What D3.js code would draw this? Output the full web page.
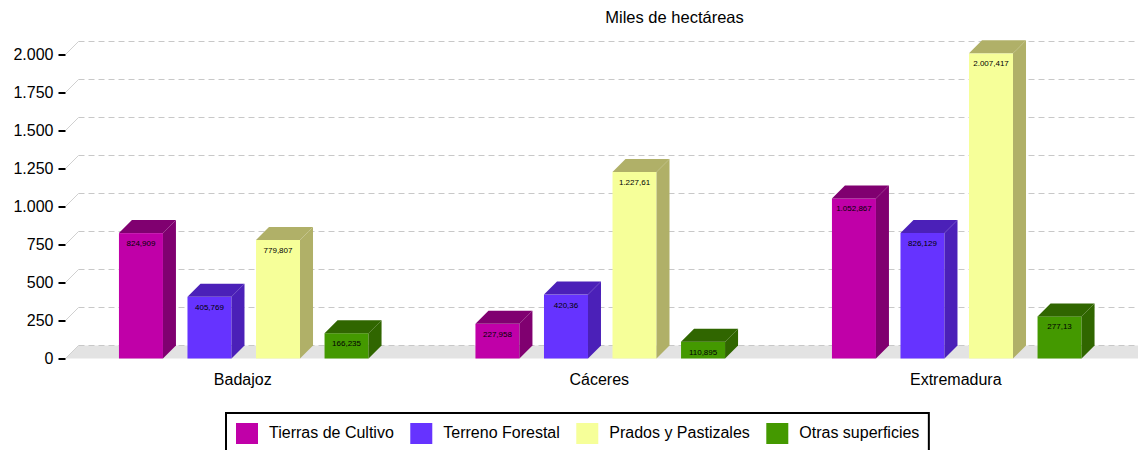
<!DOCTYPE html>
<html lang="es">
<head>
<meta charset="utf-8">
<title>Miles de hectáreas</title>
<script src="https://d3js.org/d3.v7.min.js"></script>
<style>
    body { margin: 0; background: #fff; }
    text { font-family: "Liberation Sans", Arial, sans-serif; fill: #000; }
    .grid line { stroke: #c8c8c8; stroke-dasharray: 6 4; }
    .axis--y .domain { display: none; }
    .axis--y .tick line { stroke: #000; stroke-width: 2; }
    .val { font-size: 8px; }
</style>
</head>
<body>
<svg width="1138" height="450"></svg>
<script>
// data (miles de hectáreas)
var categories = ["Badajoz", "Cáceres", "Extremadura"];
var series = ["Tierras de Cultivo", "Terreno Forestal", "Prados y Pastizales", "Otras superficies"];
var cultivo   = [824.909, 227.958, 1052.867];
var forestal  = [405.769, 420.36, 826.129];
var prados    = [779.807, 1227.61, 2007.417];
var otras     = [166.235, 110.895, 277.13];
var yTicks = [0, 250, 500, 750, 1000, 1250, 1500, 1750, 2000];

var frontColors = ["#c000a8", "#6633ff", "#f6ff99", "#449900"];
var darkColors  = ["#800070", "#4b20b8", "#b0b068", "#306600"];

var locale = d3.formatLocale({decimal: ",", thousands: ".", grouping: [3], currency: ["", "€"]});
var fmtTick = locale.format(",d");
var fmtVal = locale.format(",.3~f");

var svg = d3.select("svg"),
    W = +svg.attr("width"),
    depth = 13,
    left = 65.5, right = 1135;

var y = d3.scaleLinear().domain([0, 2000]).range([358.5, 54.5]);
var x0 = d3.scaleBand().domain(categories).range([left, right]);
var x1 = d3.scaleBand().domain(series).range([0, x0.bandwidth()]).paddingInner(0.358).paddingOuter(0.78);

// floor
svg.append("path")
    .attr("d", "M" + (left) + "," + y(0) + "L" + (left + depth) + "," + (y(0) - depth) +
               "L" + (W + depth) + "," + (y(0) - depth) + "L" + W + "," + y(0) + "Z")
    .attr("fill", "#e3e3e3");

// back grid
var grid = svg.append("g").attr("class", "grid");
grid.selectAll("line.h")
    .data(yTicks)
    .enter().append("line")
    .attr("x1", left + depth)
    .attr("x2", W)
    .attr("y1", function(d) { return y(d) - depth; })
    .attr("y2", function(d) { return y(d) - depth; });
svg.append("g").selectAll("line")
    .data(yTicks)
    .enter().append("line")
    .attr("x1", left)
    .attr("y1", function(d) { return y(d); })
    .attr("x2", left + depth)
    .attr("y2", function(d) { return y(d) - depth; })
    .attr("stroke", "#d0d0d0");

// y axis
var yAxis = svg.append("g")
    .attr("class", "axis axis--y")
    .attr("transform", "translate(" + left + ",0)")
    .call(d3.axisLeft(y).tickValues(yTicks).tickSize(7).tickPadding(5).tickFormat(fmtTick));
yAxis.selectAll("text").style("font-size", "16px").style("font-family", "Liberation Sans, Arial, sans-serif").attr("fill", "#000");

// bars
var rows = categories.map(function(c, i) {
    return [cultivo[i], forestal[i], prados[i], otras[i]].map(function(v, j) {
        return {cat: c, s: series[j], j: j, v: v};
    });
});

var groups = svg.selectAll(".group")
    .data(rows)
    .enter().append("g")
    .attr("class", "group")
    .attr("transform", function(d) { return "translate(" + x0(d[0].cat) + ",0)"; });

var bar = groups.selectAll(".bar")
    .data(function(d) { return d; })
    .enter().append("g")
    .attr("class", "bar");

bar.each(function(d) {
    var g = d3.select(this),
        bx = x1(d.s), bw = x1.bandwidth(),
        yt = y(d.v), yb = y(0);
    g.append("rect")
        .attr("x", bx).attr("y", yt)
        .attr("width", bw).attr("height", yb - yt)
        .attr("fill", frontColors[d.j]);
    g.append("path")
        .attr("d", "M" + bx + "," + yt + "L" + (bx + depth) + "," + (yt - depth) +
                   "L" + (bx + bw + depth) + "," + (yt - depth) + "L" + (bx + bw) + "," + yt + "Z")
        .attr("fill", darkColors[d.j]);
    g.append("path")
        .attr("d", "M" + (bx + bw) + "," + yt + "L" + (bx + bw + depth) + "," + (yt - depth) +
                   "L" + (bx + bw + depth) + "," + (yb - depth) + "L" + (bx + bw) + "," + yb + "Z")
        .attr("fill", darkColors[d.j]);
    g.append("text")
        .attr("class", "val")
        .attr("x", bx + bw / 2)
        .attr("y", yt + 13)
        .attr("text-anchor", "middle")
        .text(fmtVal(d.v));
});

// category labels
svg.append("g").selectAll("text")
    .data(categories)
    .enter().append("text")
    .attr("x", function(d) { return x0(d) + x0.bandwidth() / 2 - 1; })
    .attr("y", 385)
    .attr("text-anchor", "middle")
    .style("font-size", "16px")
    .text(function(d) { return d; });

// title
svg.append("text")
    .attr("x", 674.5)
    .attr("y", 23)
    .attr("text-anchor", "middle")
    .style("font-size", "16.5px")
    .text("Miles de hectáreas");

// legend
var legend = svg.append("g");
var lx = 236, items = [];
series.forEach(function(s, i) {
    var it = legend.append("g");
    it.append("rect").attr("x", lx).attr("y", 423).attr("width", 22).attr("height", 21).attr("fill", frontColors[i]);
    var t = it.append("text").attr("x", lx + 33).attr("y", 438).style("font-size", "16px").text(s);
    lx = lx + 33 + t.node().getComputedTextLength() + 16.5;
});
legend.insert("rect", ":first-child")
    .attr("x", 226).attr("y", 413)
    .attr("width", lx - 226 - 7).attr("height", 50)
    .attr("fill", "#fff").attr("stroke", "#000").attr("stroke-width", 2);
</script>
</body>
</html>
